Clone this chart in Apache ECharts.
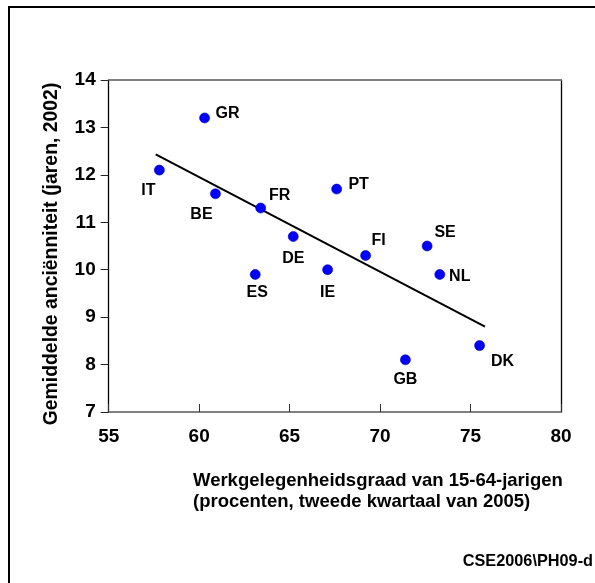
<!DOCTYPE html>
<html>
<head>
<meta charset="utf-8">
<script src="https://cdn.jsdelivr.net/npm/echarts@6/dist/echarts.min.js"></script>
<style>
html,body{margin:0;padding:0;background:#fff;}
#chart{width:595px;height:583px;}
</style>
</head>
<body>
<div id="chart"></div>
<script>
// ---- data ----
var countries = ['IT','GR','BE','FR','ES','DE','IE','PT','FI','SE','NL','GB','DK'];
var employment = [57.8, 60.3, 60.9, 63.4, 63.1, 65.2, 67.1, 67.6, 69.2, 72.6, 73.3, 71.4, 75.5];
var seniority = [12.1, 13.2, 11.6, 11.3, 9.9, 10.7, 10.0, 11.7, 10.3, 10.5, 9.9, 8.1, 8.4];
var trendX = [57.6, 75.8];
var trendY = [12.43, 8.8];
var xTicks = [55, 60, 65, 70, 75, 80];
var yTicks = [7, 8, 9, 10, 11, 12, 13, 14];
var xTitle = 'Werkgelegenheidsgraad van 15-64-jarigen\n(procenten, tweede kwartaal van 2005)';
var yTitle = 'Gemiddelde anciënniteit (jaren, 2002)';
var sourceNote = 'CSE2006\\PH09-d';

// ---- label placement (style) ----
var labelOffsets = {
  IT: [-11, 20], GR: [23, -4], BE: [-14, 21], FR: [19, -12], ES: [2, 18],
  DE: [0, 22], IE: [0, 23], PT: [22, -4], FI: [13, -15], SE: [18, -13],
  NL: [20, 2], GB: [0, 20], DK: [23, 16]
};

var FONT = "'Liberation Sans', Arial, sans-serif";

var scatterData = countries.map(function (c, i) {
  return {
    value: [employment[i], seniority[i]],
    name: c,
    label: { offset: labelOffsets[c] }
  };
});
var trendData = trendX.map(function (x, i) { return [x, trendY[i]]; });

var chart = echarts.init(document.getElementById('chart'), null, { renderer: 'canvas' });
chart.setOption({
  animation: false,
  backgroundColor: '#ffffff',
  grid: { left: 108.7, right: 34, top: 80, bottom: 171 },
  xAxis: [{
    type: 'value', min: xTicks[0], max: xTicks[xTicks.length - 1], interval: 5,
    position: 'bottom',
    axisLine: { show: true, lineStyle: { color: '#808080', width: 2 } },
    axisTick: { show: true, inside: true, length: 8, lineStyle: { color: '#333', width: 1 } },
    axisLabel: { color: '#000', fontFamily: FONT, fontWeight: 'bold', fontSize: 19, margin: 15 },
    splitLine: { show: false }
  }, {
    type: 'value', min: xTicks[0], max: xTicks[xTicks.length - 1], position: 'top',
    axisLine: { show: true, lineStyle: { color: '#808080', width: 2 } },
    axisTick: { show: false }, axisLabel: { show: false }, splitLine: { show: false }
  }],
  yAxis: [{
    type: 'value', min: yTicks[0], max: yTicks[yTicks.length - 1], interval: 1,
    position: 'left',
    axisLine: { show: true, lineStyle: { color: '#000', width: 1.3 } },
    axisTick: { show: true, inside: false, length: 8, lineStyle: { color: '#222', width: 1 } },
    axisLabel: { color: '#000', fontFamily: FONT, fontWeight: 'bold', fontSize: 19, margin: 13 },
    splitLine: { show: false }
  }, {
    type: 'value', min: yTicks[0], max: yTicks[yTicks.length - 1], position: 'right',
    axisLine: { show: true, lineStyle: { color: '#000', width: 1.3 } },
    axisTick: { show: false }, axisLabel: { show: false }, splitLine: { show: false }
  }],
  series: [{
    type: 'line',
    data: trendData,
    xAxisIndex: 0, yAxisIndex: 0,
    showSymbol: false, symbol: 'none',
    lineStyle: { color: '#000', width: 2 },
    silent: true, z: 2
  }, {
    type: 'scatter',
    data: scatterData,
    xAxisIndex: 0, yAxisIndex: 0,
    symbol: 'circle', symbolSize: 10,
    itemStyle: { color: '#0000ff', borderColor: '#0000b0', borderWidth: 0.6, opacity: 1 },
    label: {
      show: true, position: 'inside', formatter: '{b}',
      color: '#000', fontFamily: FONT, fontWeight: 'bold', fontSize: 16,
      align: 'center', verticalAlign: 'middle'
    },
    z: 3
  }],
  graphic: [
    {
      type: 'rect', shape: { x: 9, y: 7, width: 640, height: 640 },
      style: { fill: 'none', stroke: '#000', lineWidth: 2 }, silent: true
    },
    {
      type: 'text', x: 52, y: 254, rotation: Math.PI / 2,
      style: { text: yTitle, font: 'bold 19.4px ' + FONT, fill: '#000', align: 'center', verticalAlign: 'middle' }
    },
    {
      type: 'text', x: 193, y: 470,
      style: { text: xTitle, font: 'bold 18.5px ' + FONT, fill: '#000', align: 'left', verticalAlign: 'top', lineHeight: 21 }
    },
    {
      type: 'text', x: 593, y: 562,
      style: { text: sourceNote, font: 'bold 16.3px ' + FONT, fill: '#000', align: 'right', verticalAlign: 'middle' }
    }
  ]
});
</script>
</body>
</html>
